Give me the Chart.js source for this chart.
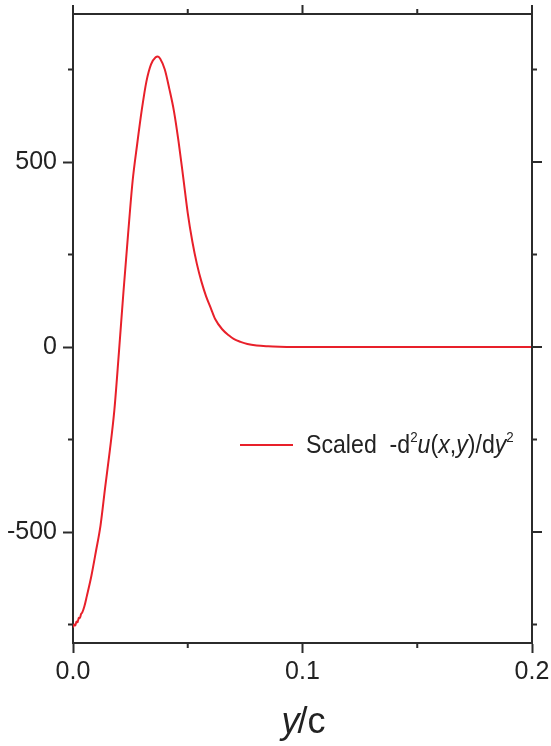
<!DOCTYPE html>
<html>
<head>
<meta charset="utf-8">
<script src="https://cdn.jsdelivr.net/npm/chart.js@4.4.1/dist/chart.umd.min.js"></script>
<style>
  html, body { margin: 0; padding: 0; background: #fff; }
  #wrap { width: 551px; height: 746px; }
</style>
</head>
<body>
<div id="wrap"><canvas id="chart"></canvas></div>
<script>
// y/c positions and the scaled second derivative
const yc = [0, 0.0005, 0.001, 0.0015, 0.002, 0.0025, 0.003, 0.0035, 0.004, 0.005, 0.006, 0.008,
  0.010, 0.012, 0.014, 0.016, 0.018, 0.020, 0.022, 0.024, 0.026, 0.028, 0.030, 0.032, 0.034,
  0.036, 0.037, 0.038, 0.040, 0.042, 0.044, 0.046, 0.048, 0.050, 0.052, 0.054, 0.056, 0.058,
  0.060, 0.062, 0.065, 0.068, 0.070, 0.073, 0.076, 0.080, 0.085, 0.090, 0.100, 0.120, 0.140,
  0.160, 0.180, 0.200];
const d2u = [-758, -750, -753, -742, -744, -732, -733, -722, -718, -700, -674, -619,
  -552, -482, -380, -282, -172, -15, 150, 305, 450, 550, 642, 718, 764,
  783, 785, 779, 750, 697, 637, 555, 460, 362, 285, 224, 176, 137,
  106, 75, 48, 31, 22, 14, 8, 4, 2, 1, 0, 0, 0,
  0, 0, 0];

const xMajor = [0, 0.1, 0.2];
const xMinor = [0.05, 0.15];
const yMajor = [-500, 0, 500];
const yMinor = [-750, -250, 250, 750];

const axisColor = "#2b2b2b";
const lineRed = "#e8202a";

// frame on top/right, minor ticks, axis title and legend
const framePlugin = {
  id: "frame",
  afterDraw(chart) {
    const ctx = chart.ctx;
    const a = chart.chartArea;
    const xs = chart.scales.x, ys = chart.scales.y;
    ctx.save();
    ctx.strokeStyle = axisColor;
    ctx.lineWidth = 2;
    ctx.beginPath();
    ctx.moveTo(a.left, a.top); ctx.lineTo(a.right, a.top);
    ctx.moveTo(a.right, a.top); ctx.lineTo(a.right, a.bottom);
    xMajor.forEach(v => {
      const px = xs.getPixelForValue(v);
      ctx.moveTo(px, a.top); ctx.lineTo(px, a.top - 9);
    });
    xMinor.forEach(v => {
      const px = xs.getPixelForValue(v);
      ctx.moveTo(px, a.top); ctx.lineTo(px, a.top - 5);
      ctx.moveTo(px, a.bottom); ctx.lineTo(px, a.bottom + 5);
    });
    yMajor.forEach(v => {
      const py = ys.getPixelForValue(v);
      ctx.moveTo(a.right, py); ctx.lineTo(a.right + 10, py);
    });
    yMinor.forEach(v => {
      const py = ys.getPixelForValue(v);
      ctx.moveTo(a.left, py); ctx.lineTo(a.left - 5, py);
      ctx.moveTo(a.right, py); ctx.lineTo(a.right + 5, py);
    });
    ctx.stroke();

    // axis title: y/c
    ctx.fillStyle = "#222";
    ctx.textBaseline = "alphabetic";
    const f1 = "italic 36px 'Liberation Sans', Arial, sans-serif";
    const f2 = "36px 'Liberation Sans', Arial, sans-serif";
    ctx.font = f1; const w1 = ctx.measureText("y").width;
    ctx.font = f2; const w2 = ctx.measureText("/c").width;
    let tx = (a.left + a.right) / 2 - (w1 + w2) / 2 + 2;
    ctx.font = f1; ctx.fillText("y", tx, 733);
    ctx.font = f2; ctx.fillText("/c", tx + w1 - 2, 733);

    // legend
    ctx.strokeStyle = lineRed;
    ctx.lineWidth = 2;
    ctx.beginPath();
    ctx.moveTo(240, 445); ctx.lineTo(293, 445);
    ctx.stroke();
    const reg = "26px 'Liberation Sans', Arial, sans-serif";
    const ita = "italic 26px 'Liberation Sans', Arial, sans-serif";
    const sup = "15px 'Liberation Sans', Arial, sans-serif";
    const parts = [
      ["Scaled  -d", reg, 0], ["2", sup, -11], ["u", ita, 0], ["(", reg, 0], ["x", ita, 0],
      [",", reg, 0], ["y", ita, 0], [")/d", reg, 0], ["y", ita, 0], ["2", sup, -11]
    ];
    ctx.translate(306, 453);
    ctx.scale(0.89, 1);
    let lx = 0;
    ctx.fillStyle = "#222";
    parts.forEach(([t, f, dy]) => {
      ctx.font = f;
      ctx.fillText(t, lx, dy);
      lx += ctx.measureText(t).width;
    });
    ctx.restore();
  }
};

new Chart(document.getElementById("chart"), {
  type: "scatter",
  data: {
    datasets: [{
      label: "Scaled -d2u(x,y)/dy2",
      data: yc.map((x, i) => ({ x: x, y: d2u[i] })),
      showLine: true,
      borderColor: lineRed,
      borderWidth: 2,
      pointRadius: 0,
      cubicInterpolationMode: "monotone"
    }]
  },
  options: {
    responsive: true,
    maintainAspectRatio: false,
    animation: false,
    layout: { padding: { left: 7, top: 14, right: 19, bottom: 0 } },
    plugins: { legend: { display: false }, tooltip: { enabled: false } },
    scales: {
      x: {
        type: "linear",
        min: 0, max: 0.2,
        afterBuildTicks: s => { s.ticks = xMajor.map(v => ({ value: v })); },
        afterFit: s => { s.height = 103; s.paddingLeft = 0; s.paddingRight = 0; },
        ticks: {
          color: "#222",
          font: { family: "'Liberation Sans', Arial, sans-serif", size: 25 },
          maxRotation: 0,
          padding: 4,
          callback: v => v.toFixed(1)
        },
        grid: { drawOnChartArea: false, drawTicks: true, tickLength: 10, tickWidth: 2, tickColor: axisColor },
        border: { display: true, color: axisColor, width: 2 }
      },
      y: {
        min: -800, max: 900,
        afterBuildTicks: s => { s.ticks = yMajor.map(v => ({ value: v })); },
        afterFit: s => { s.width = 66; s.paddingTop = 0; s.paddingBottom = 0; },
        ticks: {
          color: "#222",
          font: { family: "'Liberation Sans', Arial, sans-serif", size: 25 },
          padding: 6,
          callback: v => String(v)
        },
        grid: { drawOnChartArea: false, drawTicks: true, tickLength: 10, tickWidth: 2, tickColor: axisColor },
        border: { display: true, color: axisColor, width: 2 }
      }
    }
  },
  plugins: [framePlugin]
});
</script>
</body>
</html>
